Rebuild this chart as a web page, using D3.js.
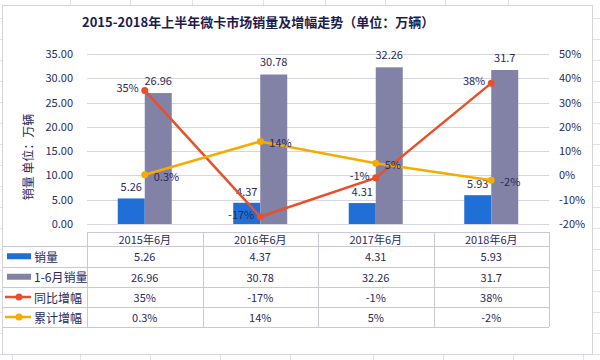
<!DOCTYPE html>
<html><head><meta charset="utf-8">
<script src="https://cdn.jsdelivr.net/npm/d3@7"></script>
<style>
html,body{margin:0;padding:0;background:#fff;}
svg text{font-family:"Noto Sans CJK SC","Noto Sans",sans-serif;}
</style></head>
<body><svg id="c" width="600" height="360"></svg>
<script>
const categories = ["2015年6月","2016年6月","2017年6月","2018年6月"];
const sales = [5.26, 4.37, 4.31, 5.93];
const salesH1 = [26.96, 30.78, 32.26, 31.7];
const yoy = [35, -17, -1, 38];
const cumul = [0.3, 14, 5, -2];
const yoyLabels = ["35%","-17%","-1%","38%"];
const cumulLabels = ["0.3%","14%","5%","-2%"];
const leftTicks = [0,5,10,15,20,25,30,35];
const rightTicks = [-20,-10,0,10,20,30,40,50];
const seriesNames = ["销量","1-6月销量","同比增幅","累计增幅"];
const title = "2015-2018年上半年微卡市场销量及增幅走势（单位：万辆）";
const yTitle = "销量 单位：万辆";

const C = {blue:"#1f6fd6", gray:"#8282a6", red:"#e84f2a", yellow:"#f6ab00", text:"#2a2a5c", grid:"#d6d6e2", tbl:"#c8c8da"};
const svg = d3.select("#c");

// faint spreadsheet background lines
const bg = svg.append("g").attr("stroke","#e2e2e6").attr("stroke-width",1);
[12,80,150,220,290,373,443,513,583].forEach(x=>bg.append("line").attr("x1",x+.5).attr("x2",x+.5).attr("y1",354).attr("y2",360));
[70,130,192,263,325,385,445,508].forEach(x=>bg.append("line").attr("x1",x+.5).attr("x2",x+.5).attr("y1",0).attr("y2",5));
d3.range(18,360,21).forEach(y=>{bg.append("line").attr("x1",592).attr("x2",600).attr("y1",y+.5).attr("y2",y+.5);
  bg.append("line").attr("x1",0).attr("x2",3).attr("y1",y+.5).attr("y2",y+.5);});
// chart frame
svg.append("rect").attr("x",2.5).attr("y",5.5).attr("width",590).attr("height",349).attr("fill","#fff").attr("stroke","#d4d4dc");

const x = d3.scaleBand().domain(categories).range([87,549]).padding(0);
const y = d3.scaleLinear().domain([0,35]).range([224,54]);
const y2 = d3.scaleLinear().domain([-20,50]).range([224,54]);

svg.append("text").attr("x",82).attr("y",27).attr("font-size",13).attr("font-weight","bold").attr("fill","#1c1c4e").text(title);

// gridlines
svg.append("g").selectAll("line").data(leftTicks).join("line")
  .attr("x1",87).attr("x2",549).attr("y1",d=>Math.round(y(d))+.5).attr("y2",d=>Math.round(y(d))+.5)
  .attr("stroke",C.grid).attr("stroke-width",1);

// left axis
const la = svg.append("g").attr("transform","translate(73,0)")
  .call(d3.axisLeft(y).tickValues(leftTicks).tickFormat(d3.format(".2f")).tickSize(0).tickPadding(0));
la.select(".domain").remove();
la.selectAll("text").attr("font-size",11).attr("fill",C.text).attr("font-family","Noto Sans CJK SC");
// right axis
const ra = svg.append("g").attr("transform","translate(559,0)")
  .call(d3.axisRight(y2).tickValues(rightTicks).tickFormat(d=>d+"%").tickSize(0).tickPadding(0));
ra.select(".domain").remove();
ra.selectAll("text").attr("font-size",11).attr("fill",C.text).attr("font-family","Noto Sans CJK SC");

svg.append("text").attr("transform","translate(27,157) rotate(-90)").attr("text-anchor","middle")
  .attr("dominant-baseline","central").attr("font-size",12).attr("fill",C.text).text(yTitle);

const bw = 27;
const cx = c => x(c) + x.bandwidth()/2;
// bars
svg.append("g").selectAll("rect").data(categories).join("rect")
  .attr("x",c=>cx(c)-bw).attr("width",bw).attr("y",(c,i)=>y(sales[i])).attr("height",(c,i)=>y(0)-y(sales[i])).attr("fill",C.blue);
svg.append("g").selectAll("rect").data(categories).join("rect")
  .attr("x",c=>cx(c)).attr("width",bw).attr("y",(c,i)=>y(salesH1[i])).attr("height",(c,i)=>y(0)-y(salesH1[i])).attr("fill",C.gray);
// bar labels
svg.append("g").selectAll("text").data(categories).join("text")
  .attr("x",c=>cx(c)-bw/2).attr("y",(c,i)=>y(sales[i])-7).attr("text-anchor","middle").attr("font-size",11).attr("fill",C.text)
  .text((c,i)=>sales[i]);
svg.append("g").selectAll("text").data(categories).join("text")
  .attr("x",c=>cx(c)+bw/2).attr("y",(c,i)=>y(salesH1[i])-8).attr("text-anchor","middle").attr("font-size",11).attr("fill",C.text)
  .text((c,i)=>salesH1[i]);

// lines
const line = (vals)=>d3.line().x((d,i)=>cx(categories[i])).y(d=>y2(d))(vals);
svg.append("path").attr("d",line(yoy)).attr("fill","none").attr("stroke",C.red).attr("stroke-width",2.5);
svg.append("g").selectAll("circle").data(yoy).join("circle").attr("cx",(d,i)=>cx(categories[i])).attr("cy",d=>y2(d)).attr("r",3.5).attr("fill",C.red);
svg.append("path").attr("d",line(cumul)).attr("fill","none").attr("stroke",C.yellow).attr("stroke-width",2.5);
svg.append("g").selectAll("circle").data(cumul).join("circle").attr("cx",(d,i)=>cx(categories[i])).attr("cy",d=>y2(d)).attr("r",3.5).attr("fill",C.yellow);
// line labels
svg.append("g").selectAll("text").data(yoy).join("text")
  .attr("x",(d,i)=>cx(categories[i])-6).attr("y",d=>y2(d)-3).attr("text-anchor","end").attr("dominant-baseline","central")
  .attr("font-size",11).attr("fill",C.text).text((d,i)=>yoyLabels[i]);
svg.append("g").selectAll("text").data(cumul).join("text")
  .attr("x",(d,i)=>cx(categories[i])+9).attr("y",d=>y2(d)+1).attr("text-anchor","start").attr("dominant-baseline","central")
  .attr("font-size",11).attr("fill",C.text).text((d,i)=>cumulLabels[i]);

// data table
const rowsY = [232,246,266.5,287,307,327];
const tg = svg.append("g").attr("stroke",C.tbl).attr("stroke-width",1);
tg.append("line").attr("x1",87).attr("x2",549).attr("y1",232.5).attr("y2",232.5);
rowsY.slice(1).forEach(r=>tg.append("line").attr("x1",3).attr("x2",549).attr("y1",Math.round(r)+.5).attr("y2",Math.round(r)+.5));
categories.forEach(c=>tg.append("line").attr("x1",Math.round(x(c))+.5).attr("x2",Math.round(x(c))+.5).attr("y1",232).attr("y2",327));
tg.append("line").attr("x1",549.5).attr("x2",549.5).attr("y1",232).attr("y2",327);

svg.append("g").selectAll("text").data(categories).join("text")
  .attr("x",c=>cx(c)).attr("y",239).attr("text-anchor","middle").attr("dominant-baseline","central")
  .attr("font-size",11).attr("fill",C.text).text(c=>c);
const rowVals = [sales.map(String), salesH1.map(String), yoyLabels, cumulLabels];
rowVals.forEach((vals,r)=>{
  const yc = (rowsY[r+1]+rowsY[r+2])/2;
  svg.append("g").selectAll("text").data(vals).join("text")
    .attr("x",(d,i)=>cx(categories[i])).attr("y",yc).attr("text-anchor","middle").attr("dominant-baseline","central")
    .attr("font-size",11).attr("fill",C.text).text(d=>d);
  // legend key
  const col = [C.blue,C.gray,C.red,C.yellow][r];
  if(r<2){
    svg.append("rect").attr("x",7).attr("y",yc-3).attr("width",24).attr("height",6).attr("fill",col);
  } else {
    svg.append("line").attr("x1",5).attr("x2",31).attr("y1",yc).attr("y2",yc).attr("stroke",col).attr("stroke-width",2.5);
    svg.append("circle").attr("cx",19).attr("cy",yc).attr("r",3.5).attr("fill",col);
  }
  svg.append("text").attr("x",34).attr("y",yc).attr("dominant-baseline","central").attr("font-size",12)
    .attr("fill",C.text).text(seriesNames[r]);
});
</script></body></html>
